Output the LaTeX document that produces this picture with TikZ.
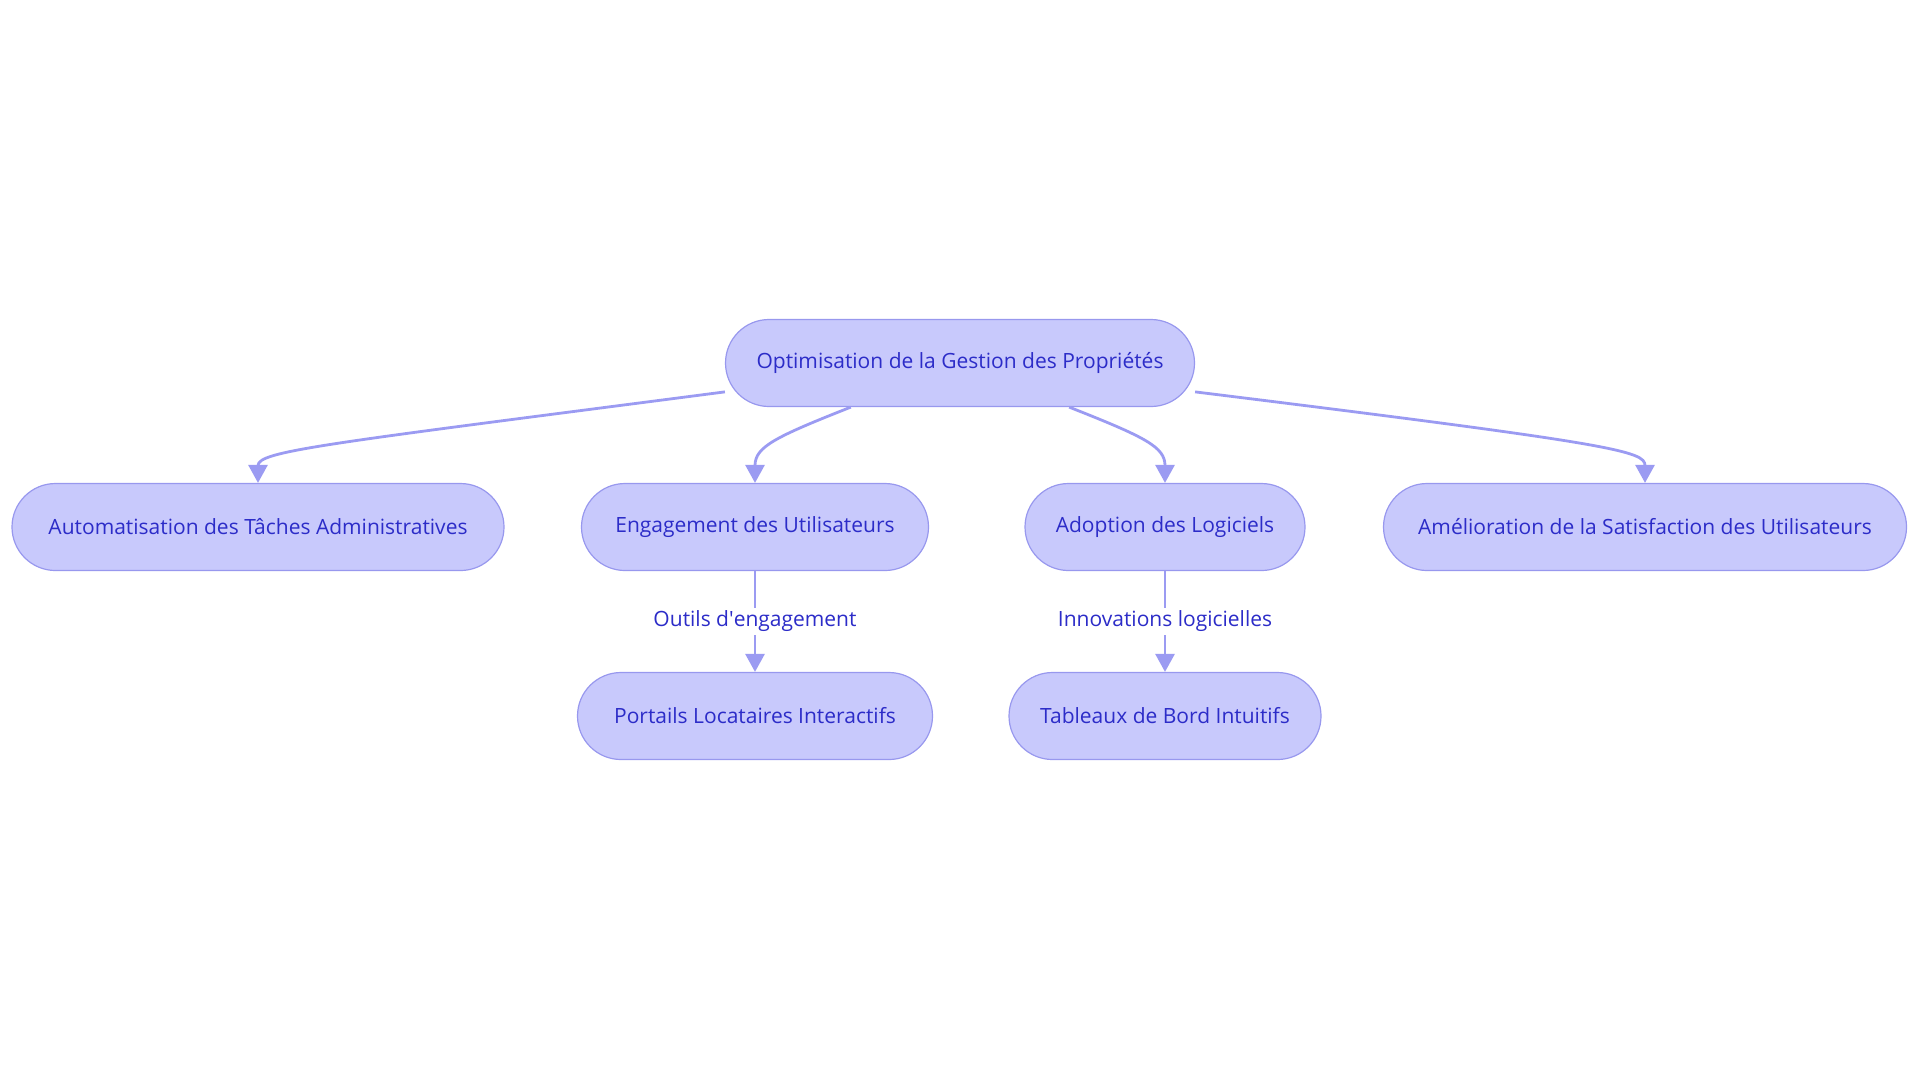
\documentclass[tikz,border=0pt]{standalone}
\usepackage{fontspec}
\setmainfont{Open Sans}
\usetikzlibrary{arrows.meta}
\definecolor{boxfill}{RGB}{200,201,252}
\definecolor{boxline}{RGB}{152,152,238}
\definecolor{boxtext}{RGB}{44,44,200}
\definecolor{linkline}{RGB}{155,155,242}
\begin{document}
\begin{tikzpicture}[x=0.5pt,y=-0.5pt,
    box/.style={draw=boxline,fill=boxfill,text=boxtext,line width=0.6pt,
      rounded corners=21.75pt,minimum height=43.5pt,inner sep=0pt,
      font=\fontsize{10.5}{12}\selectfont},
    link/.style={draw=linkline,line width=1.4pt,
      -{Triangle[width=9.5pt,length=9pt]}},
    lbl/.style={fill=white,text=boxtext,inner sep=1.5pt,
      font=\fontsize{10.5}{12}\selectfont}]
    \useasboundingbox (0,0) rectangle (1920,1083);
    % nodes
    \node[box,minimum width=234.5pt] (root) at (960,363) {Optimisation de la Gestion des Propriétés};
    \node[box,minimum width=246pt] (auto) at (258,527) {Automatisation des Tâches Administratives};
    \node[box,minimum width=173.5pt] (eng) at (755,527) {Engagement des Utilisateurs};
    \node[box,minimum width=140pt] (adop) at (1165,527) {Adoption des Logiciels};
    \node[box,minimum width=261.5pt] (amel) at (1645,527) {Amélioration de la Satisfaction des Utilisateurs};
    \node[box,minimum width=177.5pt] (port) at (755,716) {Portails Locataires Interactifs};
    \node[box,minimum width=156pt] (tabl) at (1165,716) {Tableaux de Bord Intuitifs};
    % links
    \draw[link] (root.187) .. controls +(-400,52) and +(0,-32) .. (auto.north);
    \draw[link] (root.202) .. controls +(-76,30) and +(0,-36) .. (eng.north);
    \draw[link] (root.338) .. controls +(76,30) and +(0,-36) .. (adop.north);
    \draw[link] (root.353) .. controls +(420,52) and +(0,-32) .. (amel.north);
    \path (eng) edge[link] node[lbl] {Outils d\textquotesingle engagement} (port);
    \path (adop) edge[link] node[lbl] {Innovations logicielles} (tabl);
\end{tikzpicture}
\end{document}
